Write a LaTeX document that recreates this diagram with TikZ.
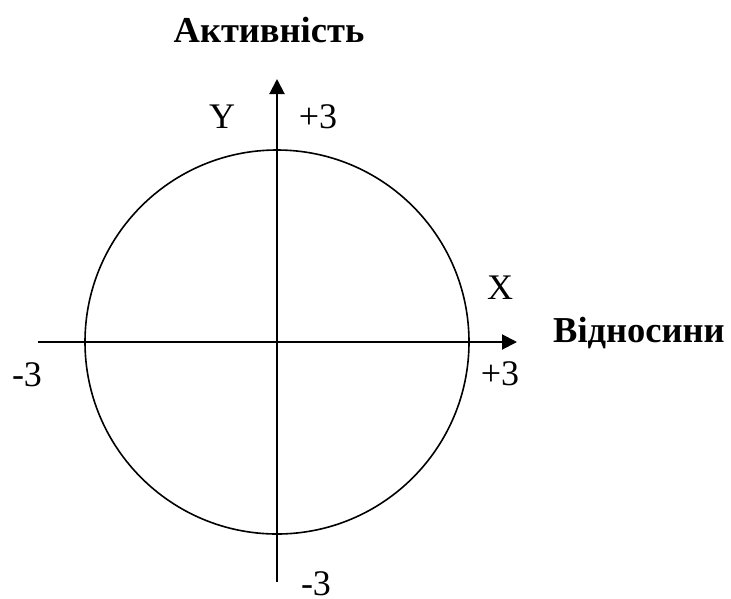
\documentclass[tikz,border=0pt]{standalone}
\usepackage{fontspec}
\setmainfont{Liberation Serif}
\usetikzlibrary{arrows.meta}
\begin{document}
\begin{tikzpicture}[x=1pt,y=-1pt,
  lbl/.style={inner sep=0pt,anchor=base,font=\fontsize{36}{40}\selectfont},
  ttl/.style={inner sep=0pt,anchor=base,font=\fontsize{36.5}{40}\selectfont\bfseries},
  axis/.style={line width=2pt,-{Triangle[length=15pt,width=15pt]}},
  ring/.style={line width=1.6pt}]
\useasboundingbox (0,0) rectangle (731,598);
\coordinate (O) at (277,342);
\coordinate (xl) at (38,342);
\coordinate (xr) at (517,342);
\coordinate (yb) at (277,582);
\coordinate (yt) at (277,79);
\draw[ring] (O) circle[radius=192];
\draw[axis] (xl) -- (xr);
\draw[axis] (yb) -- (yt);
\node[ttl] (act) at (269,42) {Активність};
\node[ttl,anchor=base west] (rel) at (553,342) {Відносини};
\node[lbl] (ylab) at (222,128) {Y};
\node[lbl] (ytop) at (318,128) {+3};
\node[lbl] (xlab) at (500,299) {X};
\node[lbl] (xright) at (500,385) {+3};
\node[lbl] (xleft) at (27,386) {-3};
\node[lbl] (ybot) at (316,595) {-3};
\end{tikzpicture}
\end{document}
